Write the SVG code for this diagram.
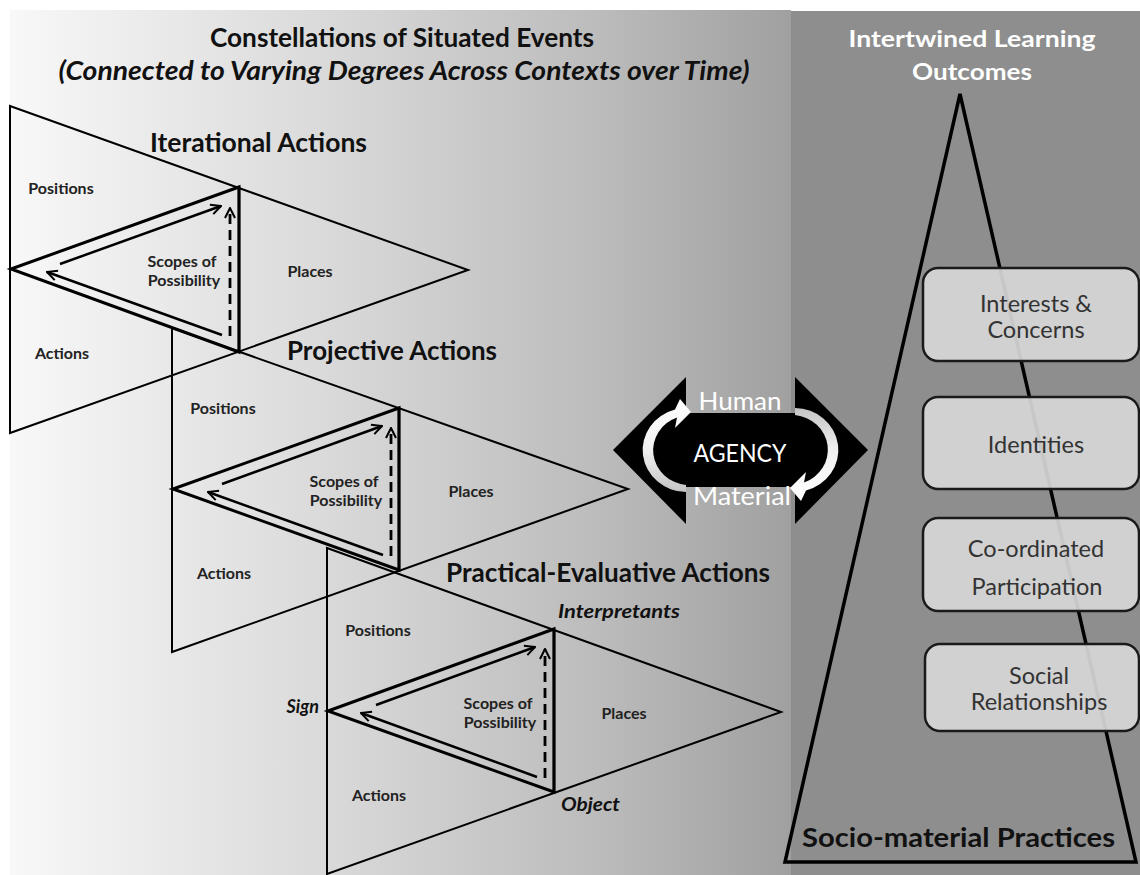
<svg xmlns="http://www.w3.org/2000/svg" width="1140" height="875" viewBox="0 0 1140 875">
<defs>
  <linearGradient id="bgL" x1="0" y1="0" x2="1" y2="0">
    <stop offset="0" stop-color="#f8f8f8"/>
    <stop offset="0.4" stop-color="#dadada"/>
    <stop offset="0.75" stop-color="#bcbcbc"/>
    <stop offset="1" stop-color="#a0a0a0"/>
  </linearGradient>
  <linearGradient id="arrG" x1="0" y1="0" x2="0" y2="1">
    <stop offset="0" stop-color="#ffffff"/>
    <stop offset="0.55" stop-color="#f0f0f0"/>
    <stop offset="1" stop-color="#c4c4c4"/>
  </linearGradient>
  <marker id="ah" viewBox="0 0 12 12" refX="11" refY="6" markerWidth="12" markerHeight="12" markerUnits="userSpaceOnUse" orient="auto">
    <path d="M1,1 L11,6 L1,11" fill="none" stroke="#000" stroke-width="2"/>
  </marker>
</defs>
<style>
  .big{fill:none;stroke:#000;stroke-width:2}
  .inner{fill:none;stroke:#000;stroke-width:3;stroke-linejoin:miter}
  .vert{stroke:#000;stroke-width:2.5}
  .arr{stroke:#000;stroke-width:2.5;fill:none;marker-end:url(#ah)}
  .dash{stroke-dasharray:10,6;stroke-width:2.8}
  .t{font-family:Lato,"Open Sans","Liberation Sans",sans-serif;font-weight:bold}
  .lbl{font-size:16px;fill:#222;text-anchor:middle}
  .sec{font-size:26px;fill:#111}
  .ital{font-style:italic;fill:#111}
  .box{fill:#d6d6d6;fill-opacity:0.93;stroke:#1a1a1a;stroke-width:2.5}
  .btxt{font-family:Lato,"Open Sans","Liberation Sans",sans-serif;font-size:23.5px;fill:#333;text-anchor:middle}
  .ag{font-family:Lato,"Open Sans","Liberation Sans",sans-serif;font-size:25px;fill:#fff;text-anchor:middle}
</style>

<rect width="1140" height="875" fill="#ffffff"/>
<rect x="10" y="10" width="781" height="865" fill="url(#bgL)"/>
<rect x="791" y="11" width="349" height="864" fill="#8e8e8e"/>

<g id="title">
  <text class="t" x="402" y="47" font-size="26" fill="#111" text-anchor="middle" textLength="384" lengthAdjust="spacingAndGlyphs">Constellations of Situated Events</text>
  <text class="t ital" x="404" y="80" font-size="26" text-anchor="middle" textLength="691" lengthAdjust="spacingAndGlyphs">(Connected to Varying Degrees Across Contexts over Time)</text>
</g>

<g id="iterational">
  <text class="t sec" x="150" y="152" textLength="217" lengthAdjust="spacingAndGlyphs">Iterational Actions</text>
  <g transform="translate(10,269)">
    <path class="big" d="M0,-163 L458,1 L0,164 Z"/>
    <path class="inner" d="M1,0 L229,-82 L229,83 Z"/>
    <text class="t lbl" x="51" y="-75.5">Positions</text>
    <text class="t lbl" x="52" y="89.5">Actions</text>
    <text class="t lbl" x="300" y="7.5">Places</text>
    <text class="t lbl" x="172" y="-2.5">Scopes of</text>
    <text class="t lbl" x="174" y="16.5">Possibility</text>
  </g>
</g>

<g id="projective">
  <text class="t sec" x="287" y="360" textLength="210" lengthAdjust="spacingAndGlyphs">Projective Actions</text>
  <g transform="translate(172,489)">
    <path class="big" d="M0,-161 L456,0 L0,163 Z"/>
    <path class="inner" d="M1,0 L227,-81 L227,81 Z"/>
    <text class="t lbl" x="51" y="-75.5">Positions</text>
    <text class="t lbl" x="52" y="89.5">Actions</text>
    <text class="t lbl" x="299" y="7.5">Places</text>
    <text class="t lbl" x="172" y="-2.5">Scopes of</text>
    <text class="t lbl" x="174" y="16.5">Possibility</text>
  </g>
</g>

<g id="practical-evaluative">
  <text class="t sec" x="446" y="582" textLength="324" lengthAdjust="spacingAndGlyphs">Practical-Evaluative Actions</text>
  <g transform="translate(327,711)">
    <path class="big" d="M0,-163 L454,1 L0,163 Z"/>
    <path class="inner" d="M1,0 L227,-82 L227,81 Z"/>
    <text class="t lbl" x="51" y="-75.5">Positions</text>
    <text class="t lbl" x="52" y="89.5">Actions</text>
    <text class="t lbl" x="297" y="7.5">Places</text>
    <text class="t lbl" x="171" y="-2.5">Scopes of</text>
    <text class="t lbl" x="173" y="16.5">Possibility</text>
  </g>
  <text class="t ital" x="319" y="713" font-size="18" text-anchor="end">Sign</text>
  <text class="t ital" x="558" y="618" font-size="18" textLength="122" lengthAdjust="spacingAndGlyphs">Interpretants</text>
  <text class="t ital" x="561" y="811" font-size="18" textLength="59" lengthAdjust="spacingAndGlyphs">Object</text>
</g>

<g id="agency">
  <path d="M613,450 L686,377 L686,413 L795,413 L795,377 L868,450 L795,524 L795,487 L686,487 L686,524 Z" fill="#000"/>
  <text class="ag" x="740" y="410" textLength="83" lengthAdjust="spacingAndGlyphs">Human</text>
  <text class="ag" x="740" y="462" textLength="93" lengthAdjust="spacingAndGlyphs">AGENCY</text>
  <text class="ag" x="742" y="505" textLength="98" lengthAdjust="spacingAndGlyphs">Material</text>
</g>

<g id="outcomes">
  <text class="t" x="972" y="47" font-size="22" fill="#fff" text-anchor="middle" textLength="247" lengthAdjust="spacingAndGlyphs">Intertwined Learning</text>
  <text class="t" x="972" y="80" font-size="22" fill="#fff" text-anchor="middle" textLength="120" lengthAdjust="spacingAndGlyphs">Outcomes</text>
  <path d="M960,94 L1136,862 L785,862 Z" fill="none" stroke="#000" stroke-width="3.5" stroke-linejoin="miter"/>
  <text class="t" x="802" y="847" font-size="27" fill="#111" textLength="313" lengthAdjust="spacingAndGlyphs">Socio-material Practices</text>
</g>

<g id="interests">
  <rect class="box" x="923" y="268" width="216" height="93" rx="15"/>
  <text class="btxt" x="1036" y="312">Interests &amp;</text>
  <text class="btxt" x="1036" y="338">Concerns</text>
</g>
<g id="identities">
  <rect class="box" x="923" y="397" width="216" height="92" rx="15"/>
  <text class="btxt" x="1036" y="453">Identities</text>
</g>
<g id="participation">
  <rect class="box" x="923" y="518" width="216" height="93" rx="15"/>
  <text class="btxt" x="1036" y="557">Co-ordinated</text>
  <text class="btxt" x="1037" y="595">Participation</text>
</g>
<g id="relationships">
  <rect class="box" x="925" y="644" width="214" height="87" rx="15"/>
  <text class="btxt" x="1039" y="684">Social</text>
  <text class="btxt" x="1039" y="710">Relationships</text>
</g>

<g id="connectors">
  <g transform="translate(10,269)">
    <line class="vert" x1="229" y1="-82" x2="229" y2="83"/>
    <line class="arr" x1="50" y1="-5" x2="211" y2="-63"/>
    <line class="arr" x1="212" y1="66" x2="37" y2="3"/>
    <line class="arr dash" x1="220" y1="67" x2="220" y2="-61"/>
  </g>
  <g transform="translate(172,489)">
    <line class="vert" x1="227" y1="-81" x2="227" y2="81"/>
    <line class="arr" x1="50" y1="-5" x2="210" y2="-63"/>
    <line class="arr" x1="211" y1="66" x2="36" y2="3"/>
    <line class="arr dash" x1="219" y1="67" x2="219" y2="-61"/>
  </g>
  <g transform="translate(327,711)">
    <line class="vert" x1="227" y1="-82" x2="227" y2="81"/>
    <line class="arr" x1="49" y1="-6" x2="208" y2="-64"/>
    <line class="arr" x1="210" y1="66" x2="34" y2="2"/>
    <line class="arr dash" x1="218" y1="67" x2="218" y2="-62"/>
  </g>
  <path d="M686,492 A44,42 0 0 1 675,409.5 L680,399 L691,412 L675,428 L677,417.5 A37,35 0 0 0 686,485 Z" fill="url(#arrG)"/>
  <path d="M686,492 A44,42 0 0 1 675,409.5 L680,399 L691,412 L675,428 L677,417.5 A37,35 0 0 0 686,485 Z" fill="url(#arrG)" transform="rotate(180 740.5 450)"/>
</g>
</svg>
